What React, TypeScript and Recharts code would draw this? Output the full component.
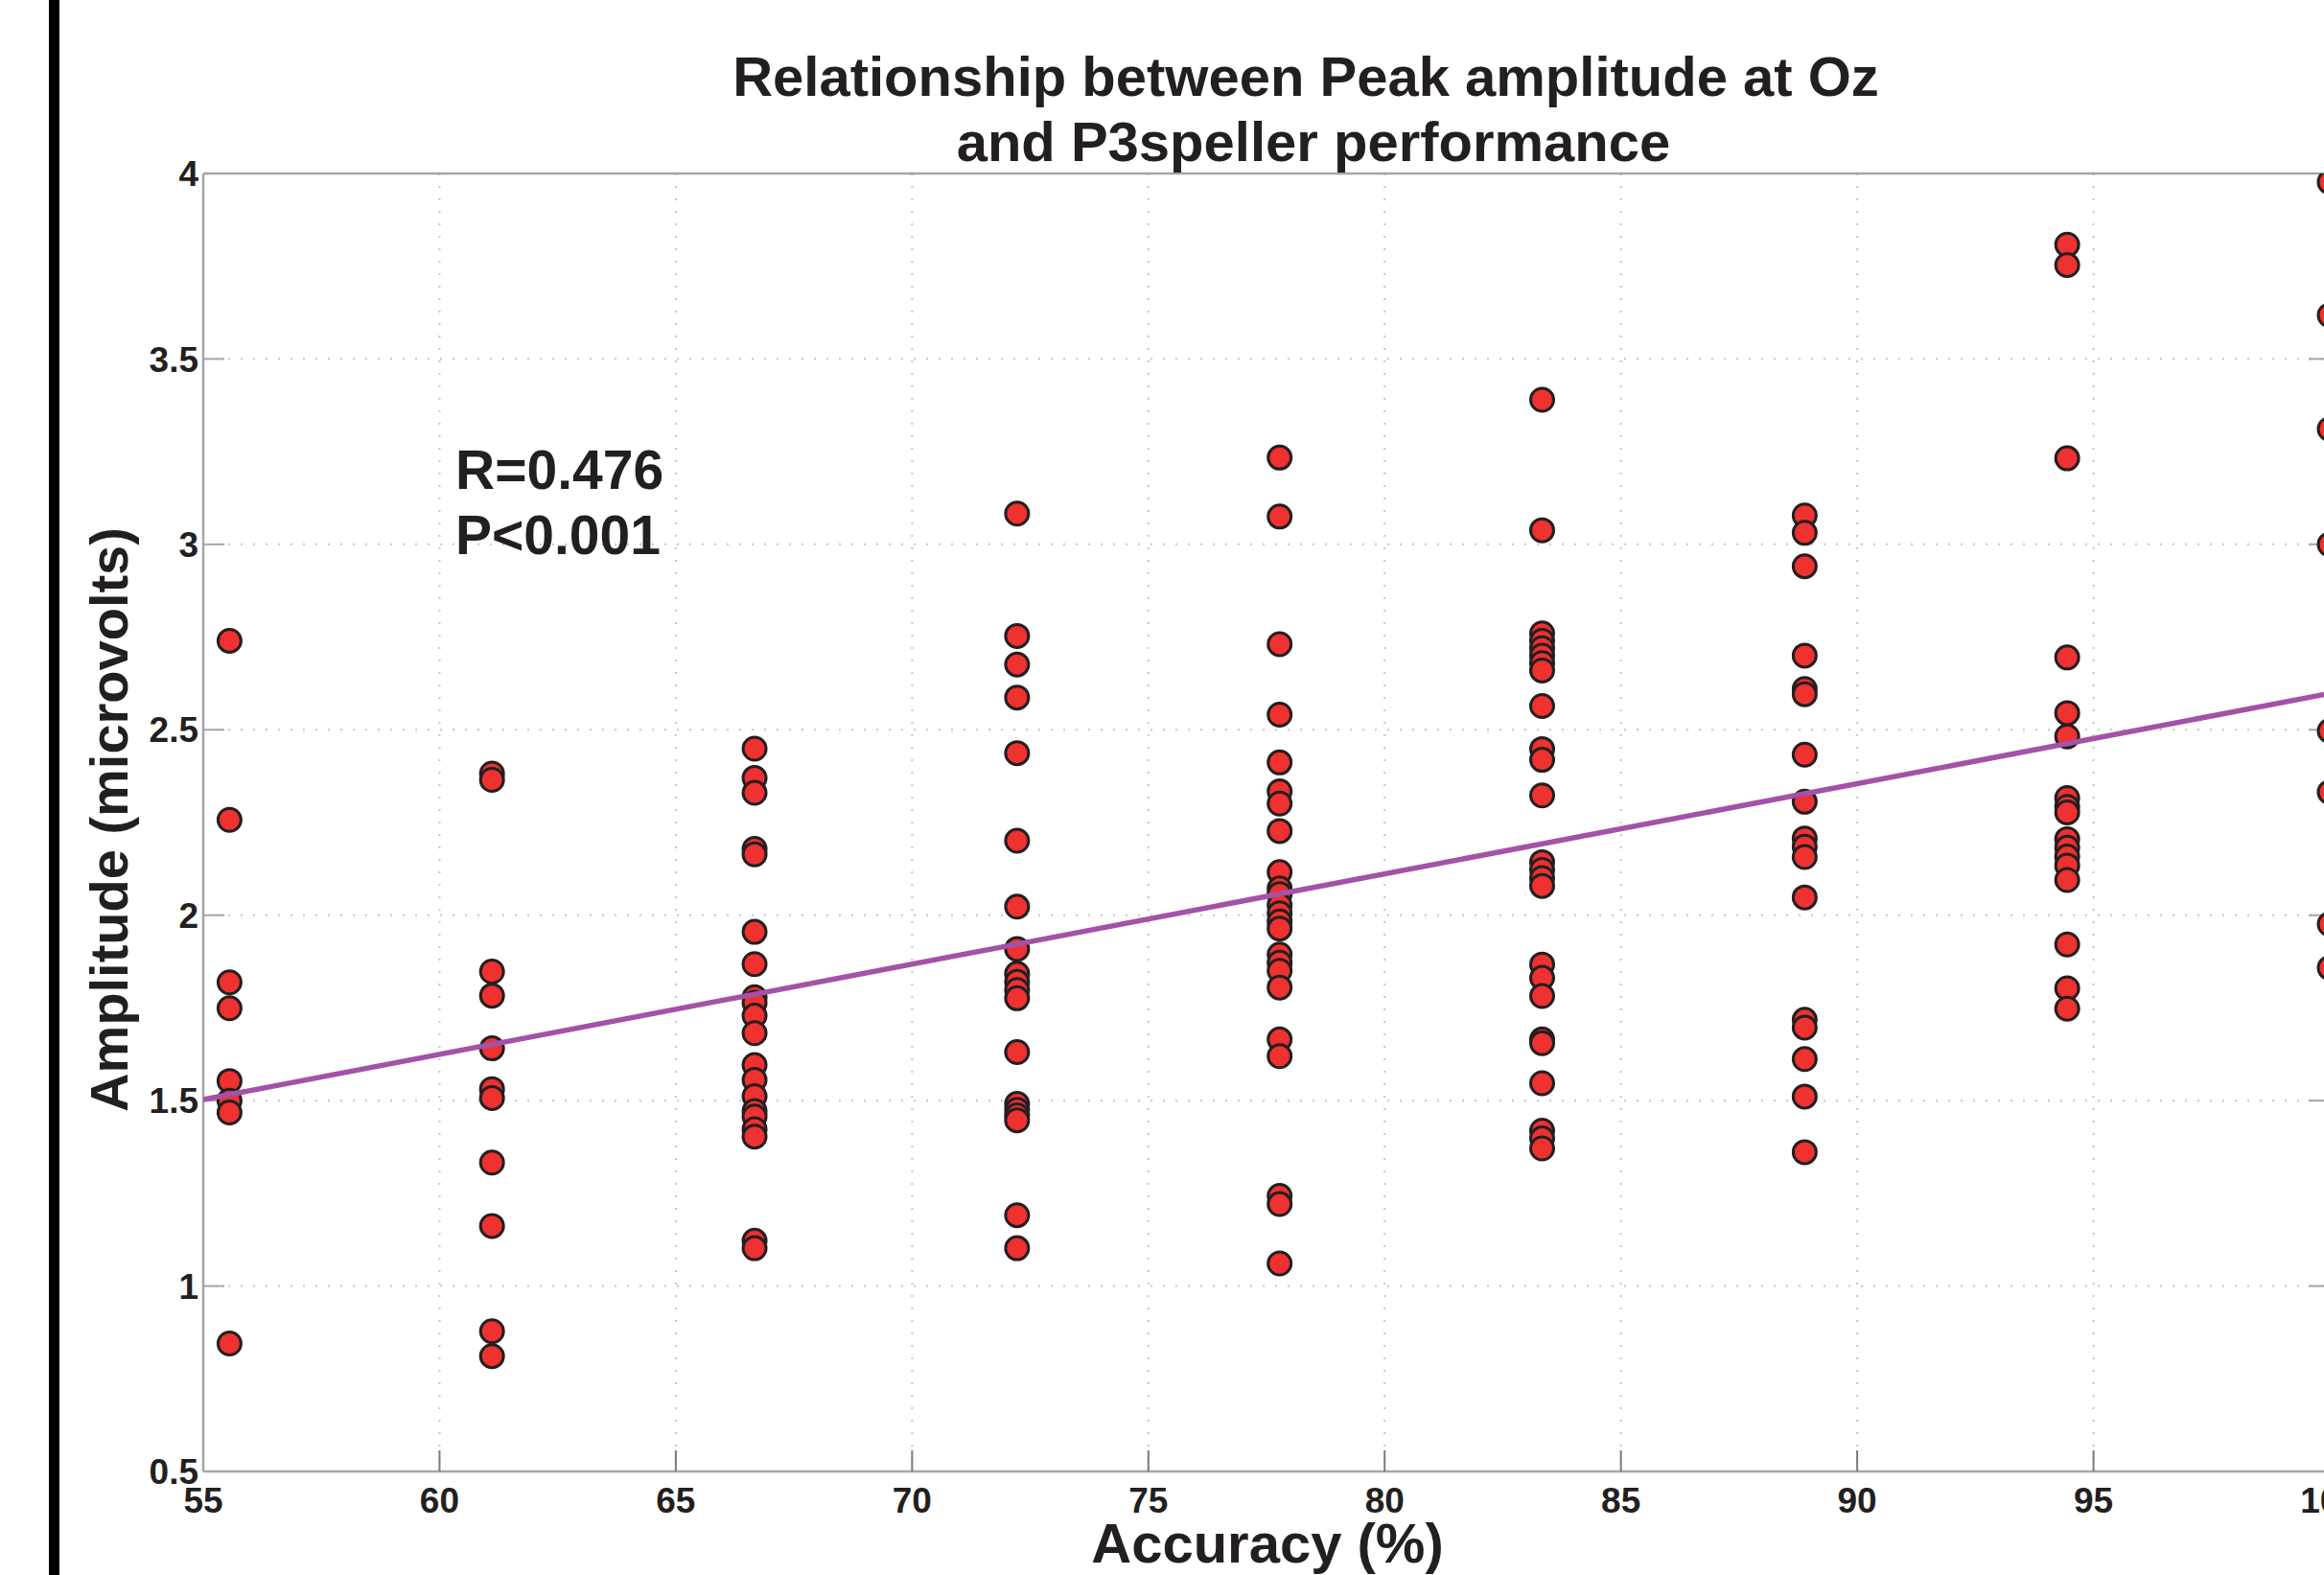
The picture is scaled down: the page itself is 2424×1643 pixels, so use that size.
import { CartesianGrid, ComposedChart, Scatter, XAxis, YAxis } from "recharts";

// accuracy levels (%) — one column of subjects per level
const ACCURACY = [55.556, 61.111, 66.667, 72.222, 77.778, 83.333, 88.889, 94.444, 100];

// peak amplitude at Oz (microvolts) per accuracy level
const AMP_55 = [2.74, 2.257, 1.819, 1.749, 1.553, 1.5, 1.468, 0.845];
const AMP_61 = [2.382, 2.365, 1.848, 1.783, 1.641, 1.531, 1.507, 1.333, 1.162, 0.878, 0.811];
const AMP_66 = [
  2.449, 2.37, 2.33, 2.179, 2.164, 1.955, 1.868, 1.779, 1.764, 1.729, 1.682, 1.596, 1.556, 1.512, 1.472,
  1.457, 1.423, 1.403, 1.122, 1.102,
];
const AMP_72 = [
  3.083, 2.753, 2.676, 2.587, 2.437, 2.201, 2.023, 1.909, 1.842, 1.82, 1.798, 1.776, 1.631, 1.491, 1.475,
  1.46, 1.447, 1.191, 1.102,
];
const AMP_77 = [
  3.234, 3.075, 2.731, 2.541, 2.412, 2.334, 2.301, 2.227, 2.116, 2.072, 2.057, 2.027, 2.005, 1.983, 1.964,
  1.894, 1.872, 1.85, 1.805, 1.665, 1.62, 1.243, 1.221, 1.061,
];
const AMP_83 = [
  3.39, 3.038, 2.76, 2.74, 2.72, 2.7, 2.68, 2.66, 2.564, 2.448, 2.419, 2.323, 2.143, 2.122, 2.1, 2.079, 1.867,
  1.831, 1.782, 1.665, 1.655, 1.547, 1.419, 1.398, 1.371,
];
const AMP_88 = [
  3.078, 3.031, 2.941, 2.7, 2.61, 2.596, 2.433, 2.306, 2.207, 2.185, 2.157, 2.048, 1.718, 1.697, 1.612, 1.511,
  1.361,
];
const AMP_94 = [
  3.808, 3.753, 3.232, 2.695, 2.545, 2.482, 2.316, 2.292, 2.277, 2.205, 2.182, 2.158, 2.134, 2.095, 1.921,
  1.803, 1.748,
];
const AMP_100 = [3.977, 3.618, 3.311, 3.0, 2.497, 2.332, 1.976, 1.858];

const AMPS = [AMP_55, AMP_61, AMP_66, AMP_72, AMP_77, AMP_83, AMP_88, AMP_94, AMP_100];

// least-squares fit line end points
const FIT_X = [55, 100];
const FIT_Y = [1.503, 2.598];

const X_TICKS = [55, 60, 65, 70, 75, 80, 85, 90, 95, 100];
const Y_TICKS = [0.5, 1, 1.5, 2, 2.5, 3, 3.5, 4];

const points = ACCURACY.flatMap((acc, i) => AMPS[i].map((amp) => ({ x: acc, y: amp })));
const fit = FIT_X.map((x, i) => ({ x, y: FIT_Y[i] }));

const FONT = '"Liberation Sans", Arial, Helvetica, sans-serif';
const INK = "#231f20";
const AXIS = "#a6a6a6";
const FIT_COLOR = "#a352a8";

const tickStyle = { fontSize: 37, fontWeight: 700, fill: INK, fontFamily: FONT };

function Dot(props: any) {
  const { cx, cy } = props;
  if (cx == null || cy == null) return <g />;
  return <circle cx={cx} cy={cy} r={12} fill="#ef3130" stroke="#231f20" strokeWidth={3} />;
}

const text = (extra: React.CSSProperties): React.CSSProperties => ({
  position: "absolute",
  fontFamily: FONT,
  fontWeight: 700,
  color: INK,
  lineHeight: 1,
  whiteSpace: "nowrap",
  ...extra,
});

export default function App() {
  return (
    <div
      style={{
        position: "fixed",
        left: 0,
        top: 0,
        width: 2424,
        height: 1643,
        overflow: "hidden",
        background: "#fff",
      }}
    >
      <div style={{ position: "absolute", left: 51, top: 0, width: 11, height: 1643, background: "#000" }} />

      <ComposedChart
        width={2600}
        height={1643}
        margin={{ top: 180, right: 169, bottom: 107, left: 211 }}
        style={{ position: "absolute", left: 0, top: 0 }}
      >
        <CartesianGrid stroke="#c6c6c6" strokeWidth={2} strokeDasharray="2 11" />
        <XAxis
          type="number"
          dataKey="x"
          domain={[55, 100]}
          ticks={X_TICKS}
          height={1}
          axisLine={{ stroke: AXIS, strokeWidth: 2.5 }}
          tickLine={{ stroke: "#7a7a7a", strokeWidth: 2 }}
          tickSize={-22}
          tickMargin={39}
          tick={tickStyle}
          interval={0}
          allowDataOverflow
        />
        <XAxis
          xAxisId="top"
          orientation="top"
          type="number"
          domain={[55, 100]}
          ticks={X_TICKS}
          height={1}
          axisLine={{ stroke: AXIS, strokeWidth: 2.5 }}
          tickLine={{ stroke: "#7a7a7a", strokeWidth: 2 }}
          tickSize={-22}
          tickFormatter={() => ""}
          interval={0}
          allowDataOverflow
        />
        <YAxis
          type="number"
          dataKey="y"
          domain={[0.5, 4]}
          ticks={Y_TICKS}
          width={1}
          axisLine={{ stroke: AXIS, strokeWidth: 2.5 }}
          tickLine={{ stroke: AXIS, strokeWidth: 2 }}
          tickSize={-22}
          tickMargin={27}
          tick={tickStyle}
          interval={0}
          allowDataOverflow
        />
        <YAxis
          yAxisId="right"
          orientation="right"
          type="number"
          domain={[0.5, 4]}
          ticks={Y_TICKS}
          width={1}
          axisLine={{ stroke: AXIS, strokeWidth: 2.5 }}
          tickLine={{ stroke: AXIS, strokeWidth: 2 }}
          tickSize={-22}
          tickFormatter={() => ""}
          interval={0}
          allowDataOverflow
        />
        <Scatter data={points} dataKey="y" shape={Dot} isAnimationActive={false} />
        <Scatter
          data={fit}
          dataKey="y"
          stroke={FIT_COLOR}
          strokeWidth={5.5}
          line={{ stroke: FIT_COLOR, strokeWidth: 5.5 }}
          lineType="joint"
          shape={() => <g />}
          isAnimationActive={false}
        />
      </ComposedChart>

      <div style={text({ left: 1362, top: 80, fontSize: 58, transform: "translate(-50%, -50%)" })}>
        Relationship between Peak amplitude at Oz
      </div>
      <div style={text({ left: 1370, top: 148, fontSize: 58, transform: "translate(-50%, -50%)" })}>
        and P3speller performance
      </div>

      <div style={text({ left: 475, top: 490, fontSize: 57, transform: "translate(0, -50%)" })}>R=0.476</div>
      <div style={text({ left: 475, top: 558, fontSize: 57, transform: "translate(0, -50%)" })}>P&lt;0.001</div>

      <div style={text({ left: 1322, top: 1610, fontSize: 58, transform: "translate(-50%, -50%)" })}>
        Accuracy (%)
      </div>
      <div
        style={text({
          left: 114,
          top: 855,
          fontSize: 56,
          transform: "translate(-50%, -50%) rotate(-90deg)",
        })}
      >
        Amplitude (microvolts)
      </div>
    </div>
  );
}
